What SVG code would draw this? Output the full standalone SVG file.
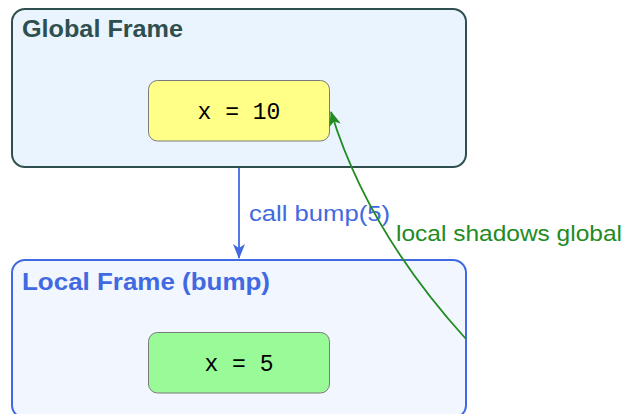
<svg xmlns="http://www.w3.org/2000/svg" width="625" height="414" viewBox="0 0 625 414">
  <style>
    .frame-title { font-family: "Liberation Sans", "DejaVu Sans", sans-serif; font-weight: bold; font-size: 23px; }
    .edge-label { font-family: "Liberation Sans", "DejaVu Sans", sans-serif; font-size: 22px; }
    .var { font-family: "Liberation Mono", "DejaVu Sans Mono", monospace; font-size: 23px; fill: #000; text-anchor: middle; }
    .var-box { stroke: #7a7a7a; stroke-width: 1; }
  </style>
  <defs>
    <marker id="arrow-blue" viewBox="0 0 15 12" refX="14" refY="6" markerWidth="15" markerHeight="12" markerUnits="userSpaceOnUse" orient="auto">
      <path d="M0,0 L15,6 L0,12 L4,6 Z" fill="#4169E1"/>
    </marker>
    <marker id="arrow-green" viewBox="0 0 15 12" refX="14" refY="6" markerWidth="15" markerHeight="12" markerUnits="userSpaceOnUse" orient="auto">
      <path d="M0,0 L15,6 L0,12 L4,6 Z" fill="#228B22"/>
    </marker>
  </defs>

  <g id="global-frame">
    <rect x="12" y="9" width="454" height="158" rx="13" fill="#E9F4FF" stroke="#2F4F4F" stroke-width="2"/>
    <text class="frame-title" x="22" y="37" fill="#2F4F4F" textLength="161" lengthAdjust="spacingAndGlyphs">Global Frame</text>
  </g>

  <g id="local-frame">
    <rect x="12" y="260" width="454" height="158" rx="13" fill="#F2F7FF" stroke="#4169E1" stroke-width="2"/>
    <text class="frame-title" x="22" y="290" fill="#4169E1" textLength="248" lengthAdjust="spacingAndGlyphs">Local Frame (bump)</text>
  </g>

  <g id="global-x">
    <rect class="var-box" x="148.5" y="80.5" width="181" height="60.5" rx="9" fill="#FFFF88"/>
    <text class="var" x="239" y="118.5">x = 10</text>
  </g>

  <g id="local-x">
    <rect class="var-box" x="148.5" y="332.5" width="181" height="60.5" rx="9" fill="#98FB98"/>
    <text class="var" x="239" y="370.5">x = 5</text>
  </g>

  <g id="connectors" fill="none">
    <path d="M239,168 L239,258" stroke="#4169E1" stroke-width="1.8" marker-end="url(#arrow-blue)"/>
    <text class="edge-label" x="249" y="221" fill="#4169E1" stroke="none" textLength="141" lengthAdjust="spacingAndGlyphs">call bump(5)</text>
    <path d="M466,339 Q367.5,230.5 331,112" stroke="#228B22" stroke-width="1.8" marker-end="url(#arrow-green)"/>
    <text class="edge-label" x="396" y="241" fill="#228B22" stroke="none" textLength="226" lengthAdjust="spacingAndGlyphs">local shadows global</text>
  </g>
</svg>
